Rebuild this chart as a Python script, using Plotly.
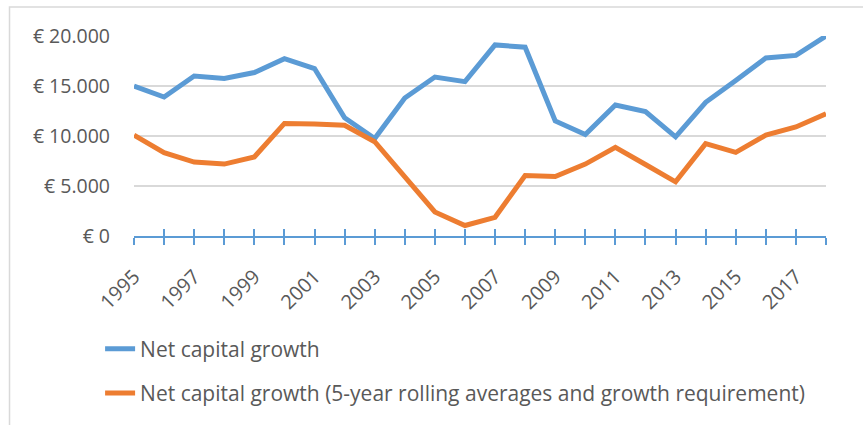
import plotly.graph_objects as go

years = [str(y) for y in range(1995, 2019)]
net_capital_growth = [15000, 13900, 16000, 15750, 16350, 17730, 16750, 11820, 9750, 13800,
                      15900, 15440, 19110, 18880, 11500, 10150, 13100, 12440, 9920, 13370,
                      15560, 17800, 18060, 20000]
rolling_avg = [10080, 8340, 7390, 7190, 7910, 11260, 11200, 11070, 9430, 5980,
               2400, 1050, 1870, 6040, 5940, 7190, 8870, 7150, 5420, 9230,
               8370, 10080, 10900, 12220]
tick_labels = [y if int(y) % 2 == 1 else "" for y in years]
y_ticks = [0, 5000, 10000, 15000, 20000]
y_tick_text = ["€ 0", "€ 5.000", "€ 10.000", "€ 15.000", "€ 20.000"]

FONT = "Open Sans"
GREY = "#595959"
BLUE = "#5B9BD5"
ORANGE = "#ED7D31"

fig = go.Figure()
fig.add_trace(go.Scatter(x=years, y=net_capital_growth, mode="lines", name="Net capital growth",
                         line=dict(color=BLUE, width=5), legendgroup="a"))
fig.add_trace(go.Scatter(x=years, y=rolling_avg, mode="lines",
                         name="Net capital growth (5-year rolling averages and growth requirement)",
                         line=dict(color=ORANGE, width=5), legendgroup="b"))
# invisible trace on overlay axis providing the inner half of the crossing ticks
fig.add_trace(go.Scatter(x=years, y=rolling_avg, mode="lines", xaxis="x2", showlegend=False,
                         line=dict(width=0), hoverinfo="skip", opacity=0))

fig.update_layout(
    width=863, height=425,
    margin=dict(l=134, r=37, t=36, b=186),
    paper_bgcolor="white", plot_bgcolor="white",
    font=dict(family=FONT, color=GREY, size=19),
    xaxis=dict(type="category", categoryorder="array", categoryarray=years,
               range=[0, len(years) - 1], tickmode="array", tickvals=years, ticktext=tick_labels,
               tickangle=-45, ticks="outside", ticklen=7, tickcolor=BLUE, tickwidth=2,
               ticklabelstandoff=12,
               showline=True, linecolor=BLUE, linewidth=2, showgrid=False, zeroline=False,
               tickfont=dict(size=20, color=GREY, family=FONT)),
    xaxis2=dict(type="category", overlaying="x", matches="x", tickmode="array", tickvals=years,
                ticktext=[""] * len(years), ticks="inside", ticklen=7, tickcolor=BLUE, tickwidth=2,
                showline=False, showgrid=False, zeroline=False, side="bottom", anchor="y",
                range=[0, len(years) - 1]),
    yaxis=dict(range=[0, 20000], tickmode="array", tickvals=y_ticks, ticktext=y_tick_text,
               showgrid=True, gridcolor="#D9D9D9", gridwidth=1.5, zeroline=False, showline=False,
               ticks="", ticklabelstandoff=23, tickfont=dict(size=19.5, color=GREY, family=FONT)),
    legend=dict(x=-0.049, y=-0.463, xanchor="left", yanchor="top", orientation="v",
                tracegroupgap=14, font=dict(size=21, color=GREY, family=FONT),
                bgcolor="rgba(0,0,0,0)"),
    showlegend=True,
    shapes=[dict(type="rect", xref="paper", yref="paper", x0=-0.1799, y0=-1.1, x1=1.07, y1=1.1453,
                 line=dict(color="#D9D9D9", width=1.5), layer="below")],
)

fig.write_html("out.html")
